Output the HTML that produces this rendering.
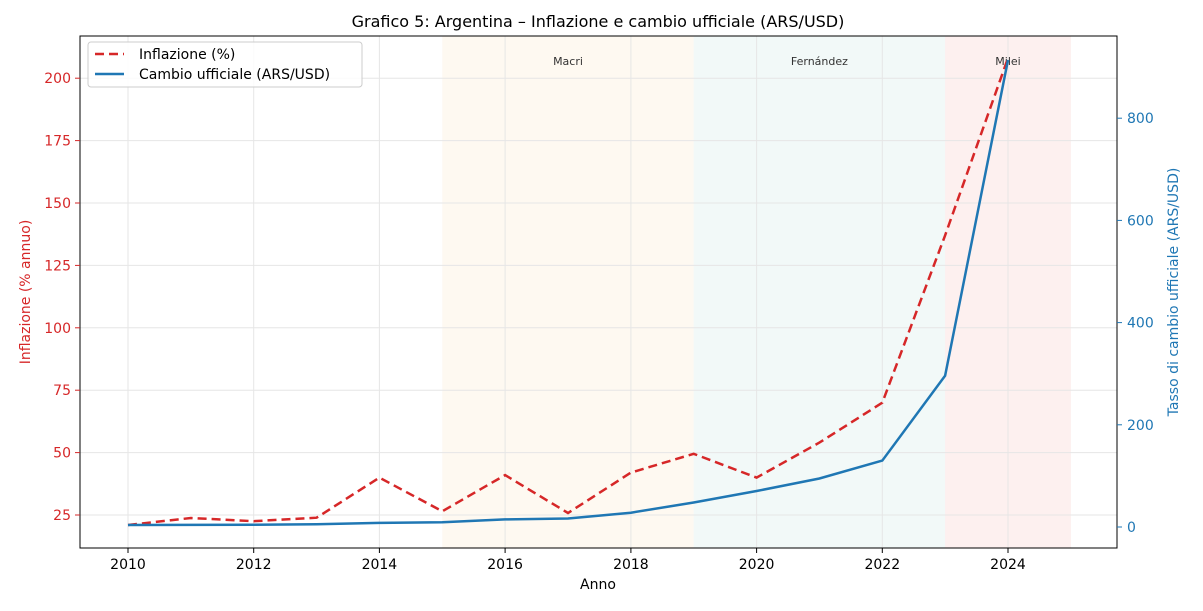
<!DOCTYPE html>
<html><head><style>body{margin:0;background:#fff}svg{display:block;font-family:"DejaVu Sans","Liberation Sans",sans-serif}</style></head><body>
<svg width="1203" height="611" viewBox="0 0 1203 611">
<rect x="442.3" y="36" width="251.4" height="512" fill="#fdf1df" opacity="0.45"/>
<rect x="693.7" y="36" width="251.4" height="512" fill="#e3f1ef" opacity="0.45"/>
<rect x="945.1" y="36" width="125.8" height="512" fill="#fbe2e0" opacity="0.5"/>
<g stroke="#e6e6e6" stroke-width="1">
<line x1="128" y1="36" x2="128" y2="548"/><line x1="253.7" y1="36" x2="253.7" y2="548"/><line x1="379.4" y1="36" x2="379.4" y2="548"/><line x1="505.1" y1="36" x2="505.1" y2="548"/><line x1="630.9" y1="36" x2="630.9" y2="548"/><line x1="756.6" y1="36" x2="756.6" y2="548"/><line x1="882.3" y1="36" x2="882.3" y2="548"/><line x1="1008" y1="36" x2="1008" y2="548"/>
<line x1="80" y1="515" x2="1117" y2="515"/><line x1="80" y1="452.6" x2="1117" y2="452.6"/><line x1="80" y1="390.2" x2="1117" y2="390.2"/><line x1="80" y1="327.8" x2="1117" y2="327.8"/><line x1="80" y1="265.4" x2="1117" y2="265.4"/><line x1="80" y1="203" x2="1117" y2="203"/><line x1="80" y1="140.6" x2="1117" y2="140.6"/><line x1="80" y1="78.2" x2="1117" y2="78.2"/>
</g>
<g font-size="11" fill="#333" text-anchor="middle"><text x="568" y="65">Macri</text><text x="819.4" y="65">Fernández</text><text x="1008" y="65">Milei</text></g>
<polyline fill="none" stroke="#d62728" stroke-width="2.5" stroke-dasharray="9,5" points="128,525 190.9,518 253.7,521.2 316.6,517.7 379.4,477.6 442.3,511.3 505.1,475.1 568,513 630.9,472.6 693.7,453.8 756.6,477.6 819.4,442.6 882.3,402.7 945.1,235.4 1008,58"/>
<polyline fill="none" stroke="#1f77b4" stroke-width="2.5" points="128,525 190.9,524.9 253.7,524.7 316.6,524.2 379.4,522.9 442.3,522.3 505.1,519.4 568,518.5 630.9,512.7 693.7,502.5 756.6,491 819.4,478.5 882.3,460.6 945.1,375.7 1008,60"/>
<rect x="80" y="36" width="1037" height="512" fill="none" stroke="#000" stroke-width="1"/>
<g stroke="#000"><line x1="128" y1="548" x2="128" y2="553"/><line x1="253.7" y1="548" x2="253.7" y2="553"/><line x1="379.4" y1="548" x2="379.4" y2="553"/><line x1="505.1" y1="548" x2="505.1" y2="553"/><line x1="630.9" y1="548" x2="630.9" y2="553"/><line x1="756.6" y1="548" x2="756.6" y2="553"/><line x1="882.3" y1="548" x2="882.3" y2="553"/><line x1="1008" y1="548" x2="1008" y2="553"/></g>
<g stroke="#d62728"><line x1="75" y1="515" x2="80" y2="515"/><line x1="75" y1="452.6" x2="80" y2="452.6"/><line x1="75" y1="390.2" x2="80" y2="390.2"/><line x1="75" y1="327.8" x2="80" y2="327.8"/><line x1="75" y1="265.4" x2="80" y2="265.4"/><line x1="75" y1="203" x2="80" y2="203"/><line x1="75" y1="140.6" x2="80" y2="140.6"/><line x1="75" y1="78.2" x2="80" y2="78.2"/></g>
<g stroke="#1f77b4"><line x1="1117" y1="527" x2="1122" y2="527"/><line x1="1117" y1="424.8" x2="1122" y2="424.8"/><line x1="1117" y1="322.6" x2="1122" y2="322.6"/><line x1="1117" y1="220.4" x2="1122" y2="220.4"/><line x1="1117" y1="118.2" x2="1122" y2="118.2"/></g>
<g font-size="14" fill="#000" text-anchor="middle"><text x="128" y="569">2010</text><text x="253.7" y="569">2012</text><text x="379.4" y="569">2014</text><text x="505.1" y="569">2016</text><text x="630.9" y="569">2018</text><text x="756.6" y="569">2020</text><text x="882.3" y="569">2022</text><text x="1008" y="569">2024</text></g>
<text x="598" y="589" font-size="14" text-anchor="middle">Anno</text>
<g font-size="14" fill="#d62728" text-anchor="end"><text x="71" y="520">25</text><text x="71" y="457.6">50</text><text x="71" y="395.2">75</text><text x="71" y="332.8">100</text><text x="71" y="270.4">125</text><text x="71" y="208">150</text><text x="71" y="145.6">175</text><text x="71" y="83.2">200</text></g>
<g font-size="14" fill="#1f77b4"><text x="1127" y="532">0</text><text x="1127" y="429.8">200</text><text x="1127" y="327.6">400</text><text x="1127" y="225.4">600</text><text x="1127" y="123.2">800</text></g>
<text transform="translate(30,292) rotate(-90)" font-size="14" fill="#d62728" text-anchor="middle">Inflazione (% annuo)</text>
<text transform="translate(1178,292) rotate(-90)" font-size="14" fill="#1f77b4" text-anchor="middle">Tasso di cambio ufficiale (ARS/USD)</text>
<text x="598" y="27" font-size="16" text-anchor="middle">Grafico 5: Argentina – Inflazione e cambio ufficiale (ARS/USD)</text>
<rect x="88" y="42" width="274" height="45" rx="3" fill="#fff" fill-opacity="0.85" stroke="#ccc"/>
<line x1="95" y1="54" x2="124" y2="54" stroke="#d62728" stroke-width="2.5" stroke-dasharray="9,5"/>
<line x1="95" y1="74" x2="124" y2="74" stroke="#1f77b4" stroke-width="2.5"/>
<text x="139" y="59" font-size="14">Inflazione (%)</text>
<text x="139" y="79" font-size="14">Cambio ufficiale (ARS/USD)</text>
</svg>
</body></html>
